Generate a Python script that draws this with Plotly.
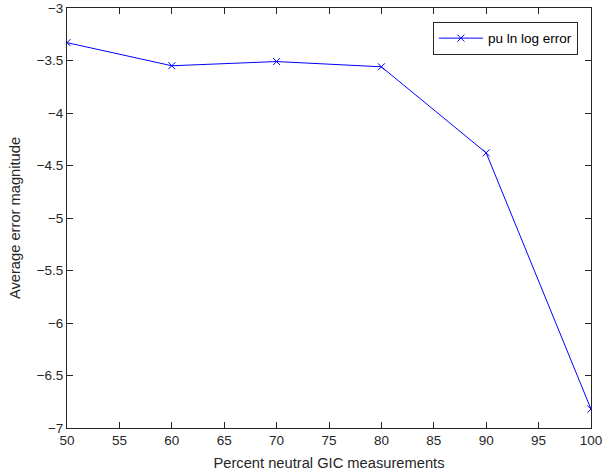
import plotly.graph_objects as go

percent = [50, 60, 70, 80, 90, 100]
avg_error = [-3.33, -3.55, -3.51, -3.56, -4.38, -6.82]
series_name = "pu ln log error"

FONT = "Liberation Sans, Arial, Helvetica"
fig = go.Figure()
fig.add_trace(go.Scatter(
    x=percent, y=avg_error, mode="lines+markers", name=series_name,
    line=dict(color="#0000ff", width=1),
    marker=dict(symbol="x-thin", size=7, line=dict(color="#0000ff", width=1)),
))

axis_common = dict(
    showgrid=False, zeroline=False, showline=True, linecolor="#262626", linewidth=1,
    mirror="ticks", ticks="inside", ticklen=6, tickcolor="#262626", automargin=False,
    tickfont=dict(family=FONT, size=13.5, color="#262626"),
)
fig.update_xaxes(range=[50, 100], dtick=5, tick0=50,
                 title=dict(text="Percent neutral GIC measurements", standoff=10,
                            font=dict(family=FONT, size=14.7, color="#262626")),
                 **axis_common)
fig.update_yaxes(range=[-7, -3], dtick=0.5, tick0=-7,
                 title=dict(text="Average error magnitude", standoff=12,
                            font=dict(family=FONT, size=14.7, color="#262626")),
                 **axis_common)
fig.update_layout(
    width=603, height=476, paper_bgcolor="white", plot_bgcolor="white",
    margin=dict(l=67, r=12, t=8, b=48),
    showlegend=True,
    legend=dict(x=0.975, y=0.967, xanchor="right", yanchor="top",
                bgcolor="white", bordercolor="#262626", borderwidth=1,
                font=dict(family=FONT, size=13.5, color="#000000"),
                itemwidth=44, tracegroupgap=0),
    font=dict(family=FONT),
)
fig.write_html("out.html", config={"displayModeBar": False},
               post_script="document.body.style.margin='0';")
